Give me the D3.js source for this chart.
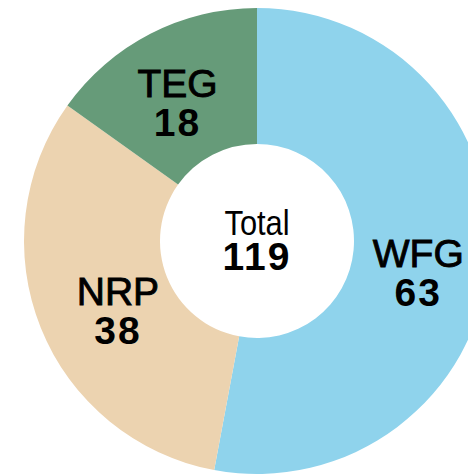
<!DOCTYPE html>
<html>
<head>
<meta charset="utf-8">
<script src="https://cdn.jsdelivr.net/npm/d3@7"></script>
<style>
  body { margin: 0; background: #fff; }
  text { font-family: "Liberation Sans", Arial, sans-serif; fill: #000; }
</style>
</head>
<body>
<div id="donut-wrapper"></div>
<script>
// data
const groups = ["WFG", "NRP", "TEG"]
const counts = [63, 38, 18]
const colors = ["#8fd3ec", "#ecd3b0", "#669b79"]
const totalLabel = "Total"

// label nudges (px) away from the arc centroid, by group
const nudges = {WFG: [-3, 16], NRP: [14, 7], TEG: [-4, 8]}

function drawDonut () {
  const width = 468
  const height = 475
  const cx = 257
  const cy = 241
  const outerR = 233
  const innerR = 97

  const svg = d3.select("#donut-wrapper")
    .append("svg")
    .attr("width", width)
    .attr("height", height)

  const data = groups.map((g, i) => ({name: g, value: counts[i], color: colors[i]}))

  const pie = d3.pie()
    .value(d => d.value)
    .sort(null)

  const arc = d3.arc()
    .innerRadius(innerR)
    .outerRadius(outerR)

  const labelArc = d3.arc()
    .innerRadius(165)
    .outerRadius(165)

  const g = svg.append("g")
    .attr("transform", `translate(${cx},${cy})`)

  const arcs = pie(data)

  g.selectAll("path")
    .data(arcs)
    .join("path")
      .attr("d", arc)
      .attr("fill", d => d.data.color)

  // slice labels, two lines each
  const labels = g.selectAll("g.lbl")
    .data(arcs)
    .join("g")
      .attr("class", "lbl")
      .attr("transform", d => {
        const [x, y] = labelArc.centroid(d)
        const n = nudges[d.data.name]
        return `translate(${x + n[0]},${y + n[1]})`
      })

  labels.append("text")
    .attr("text-anchor", "middle")
    .attr("y", -5)
    .style("font-size", "39px")
    .style("stroke", "#000")
    .style("stroke-width", "0.9px")
    .text(d => d.data.name)

  labels.append("text")
    .attr("text-anchor", "middle")
    .attr("y", 34)
    .style("font-size", "39px")
    .style("font-weight", "bold")
    .style("letter-spacing", "2px")
    .text(d => d.data.value)

  // center total
  g.append("text")
    .attr("text-anchor", "middle")
    .attr("transform", "translate(0,-6) scale(0.88,1)")
    .style("font-size", "35px")
    .text(totalLabel)

  g.append("text")
    .attr("text-anchor", "middle")
    .attr("y", 29)
    .style("font-size", "39px")
    .style("font-weight", "bold")
    .style("letter-spacing", "2px")
    .text(d3.sum(counts))
}

drawDonut()
</script>
</body>
</html>
